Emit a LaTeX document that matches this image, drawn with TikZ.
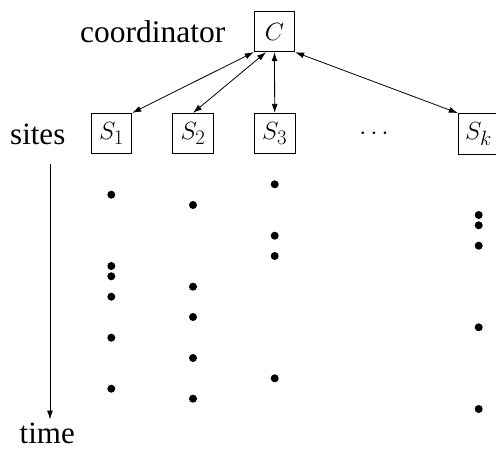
\documentclass[tikz,border=0pt]{standalone}
\usepackage{fontspec}
\setmainfont{Liberation Serif}
\usetikzlibrary{arrows.meta}
\begin{document}
\begin{tikzpicture}[x=1pt,y=-1pt,
  box/.style={draw,line width=0.9pt,minimum width=40.5pt,minimum height=40.5pt,inner sep=0pt,font=\fontsize{30}{32}\selectfont},
  lbl/.style={font=\fontsize{31}{33}\selectfont,inner sep=0pt},
  link/.style={line width=0.8pt,{Latex[length=9pt,width=6pt]}-{Latex[length=9pt,width=6pt]}},
  tarrow/.style={line width=0.8pt,-{Latex[length=9pt,width=6pt]}},
  ev/.style={fill,circle,inner sep=0pt,minimum size=8pt}]
\useasboundingbox (0,0) rectangle (496,450);
\node[box] (C) at (274.5,31.5) {$C$};
\node[box] (S1) at (111.5,133.6) {$S_1$};
\node[box] (S2) at (193,133.6) {$S_2$};
\node[box] (S3) at (274.7,133.6) {$S_3$};
\node[box] (Sk) at (478.6,133.8) {$S_k$};
\node[font=\fontsize{36}{38}\selectfont] (dots) at (374,133.6) {$\cdots$};
\node[lbl,anchor=base east,font=\fontsize{31.5}{33}\selectfont] (coord) at (225.5,42.5) {coordinator};
\node[lbl,anchor=base west] (sites) at (10,144.3) {sites};
\draw[link] (C.south west) -- (S1.north east);
\draw[link] ([xshift=-8.5pt]C.south) -- (S2.north);
\draw[link] (C.south) -- (S3.north);
\draw[link] (C.south east) -- (Sk.north west);
\coordinate (t0) at (50,164);
\node[lbl,anchor=base] (time) at (47.2,443.5) {time};
\draw[tarrow] (t0) -- (50,419.5);
% events
\foreach \y [count=\i] in {194.7,266,276.3,296.7,337.7,388.7}
  \node[ev] (a\i) at (111.3,\y) {};
\foreach \y [count=\i] in {205,286.7,317,358,398.7}
  \node[ev] (b\i) at (193,\y) {};
\foreach \y [count=\i] in {184.3,235.7,256,378.3}
  \node[ev] (c\i) at (274.7,\y) {};
\foreach \y [count=\i] in {215,225.3,245.7,327.3,409}
  \node[ev] (d\i) at (478.7,\y) {};
\end{tikzpicture}
\end{document}
